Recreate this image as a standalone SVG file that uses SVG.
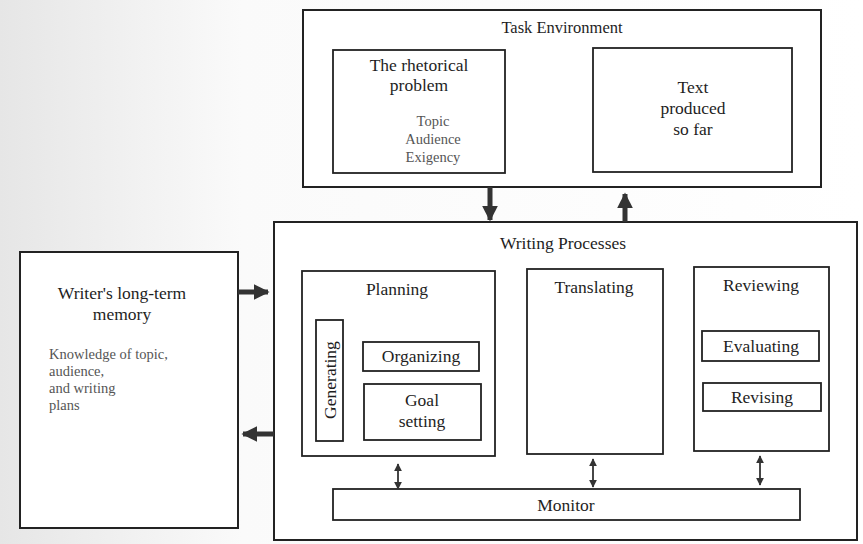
<svg xmlns="http://www.w3.org/2000/svg" width="863" height="544" viewBox="0 0 863 544" font-family="'Liberation Serif', 'Times New Roman', serif">
<defs>
<linearGradient id="bg" x1="0" y1="0" x2="1" y2="0">
<stop offset="0" stop-color="#e6e6e6"/>
<stop offset="0.28" stop-color="#fafafa"/>
<stop offset="1" stop-color="#ffffff"/>
</linearGradient>
<marker id="bigHead" viewBox="0 0 10 10" refX="9" refY="5" markerWidth="3.2" markerHeight="3.6" markerUnits="strokeWidth" orient="auto">
<path d="M0,0 L10,5 L0,10 z" fill="#333"/>
</marker>
<marker id="smallHead" viewBox="0 0 10 10" refX="9" refY="5" markerWidth="4.5" markerHeight="4.5" markerUnits="strokeWidth" orient="auto-start-reverse">
<path d="M0,0 L10,5 L0,10 z" fill="#333"/>
</marker>
<style>
.box{fill:#fff;stroke:#222;stroke-width:2}
.sub{fill:none;stroke:#222;stroke-width:1.8}
text{font-family:'Liberation Serif','Times New Roman',serif}
.t{fill:#1e1e1e;text-anchor:middle}
.h{font-size:17.5px}
.s{font-size:14.5px;fill:#555}
.l{text-anchor:start}
.big{stroke:#333;stroke-width:5;fill:none;marker-end:url(#bigHead)}
.dbl{stroke:#333;stroke-width:1.8;fill:none;marker-start:url(#smallHead);marker-end:url(#smallHead)}
</style>
</defs>
<rect x="0" y="0" width="863" height="544" fill="url(#bg)"/>

<g id="task-environment">
<rect class="box" x="303" y="10" width="518" height="177"/>
<text class="t" x="562" y="33" font-size="16.5">Task Environment</text>
</g>
<g id="rhetorical-problem">
<rect class="sub" x="333" y="50" width="172" height="123"/>
<text class="t h" x="419" y="71">The rhetorical</text>
<text class="t h" x="419" y="91">problem</text>
<text class="t s" x="433" y="126">Topic</text>
<text class="t s" x="433" y="144">Audience</text>
<text class="t s" x="433" y="162">Exigency</text>
</g>
<g id="text-produced">
<rect class="sub" x="593" y="48" width="199" height="124"/>
<text class="t h" x="693" y="93">Text</text>
<text class="t h" x="693" y="114">produced</text>
<text class="t h" x="693" y="135">so far</text>
</g>

<g id="long-term-memory">
<rect class="box" x="20" y="252" width="218" height="276"/>
<text class="t h" x="122" y="299">Writer's long-term</text>
<text class="t h" x="122" y="320">memory</text>
<text class="t s l" x="49" y="359">Knowledge of topic,</text>
<text class="t s l" x="49" y="376">audience,</text>
<text class="t s l" x="49" y="393">and writing</text>
<text class="t s l" x="49" y="410">plans</text>
</g>

<g id="writing-processes">
<rect class="box" x="274" y="222" width="583" height="318"/>
<text class="t h" x="563" y="249">Writing Processes</text>
</g>
<g id="planning">
<rect class="sub" x="302" y="271" width="193" height="185"/>
<text class="t h" x="397" y="295">Planning</text>
</g>
<g id="generating">
<rect class="sub" x="316" y="320" width="27" height="121"/>
<text class="t h" transform="translate(336,380) rotate(-90)">Generating</text>
</g>
<g id="organizing">
<rect class="sub" x="363" y="342" width="116" height="29"/>
<text class="t h" x="421" y="362">Organizing</text>
</g>
<g id="goal-setting">
<rect class="sub" x="364" y="384" width="117" height="56"/>
<text class="t h" x="422" y="406">Goal</text>
<text class="t h" x="422" y="427">setting</text>
</g>
<g id="translating">
<rect class="sub" x="527" y="269" width="136" height="185"/>
<text class="t h" x="594" y="293">Translating</text>
</g>
<g id="reviewing">
<rect class="sub" x="694" y="267" width="135" height="184"/>
<text class="t h" x="761" y="291">Reviewing</text>
</g>
<g id="evaluating">
<rect class="sub" x="702" y="331" width="117" height="30"/>
<text class="t h" x="761" y="352">Evaluating</text>
</g>
<g id="revising">
<rect class="sub" x="703" y="383" width="118" height="28"/>
<text class="t h" x="762" y="403">Revising</text>
</g>
<g id="monitor">
<rect class="sub" x="333" y="489" width="467" height="31"/>
<text class="t h" x="566" y="511">Monitor</text>
</g>

<g id="connectors">
<line class="big" x1="490" y1="187" x2="490" y2="220"/>
<line class="big" x1="625" y1="222" x2="625" y2="194"/>
<line class="big" x1="238" y1="292" x2="268" y2="292"/>
<line class="big" x1="274" y1="434" x2="243" y2="434"/>
<line class="dbl" x1="398" y1="464" x2="398" y2="489"/>
<line class="dbl" x1="593" y1="459" x2="593" y2="487"/>
<line class="dbl" x1="760" y1="456" x2="760" y2="485"/>
</g>
</svg>
